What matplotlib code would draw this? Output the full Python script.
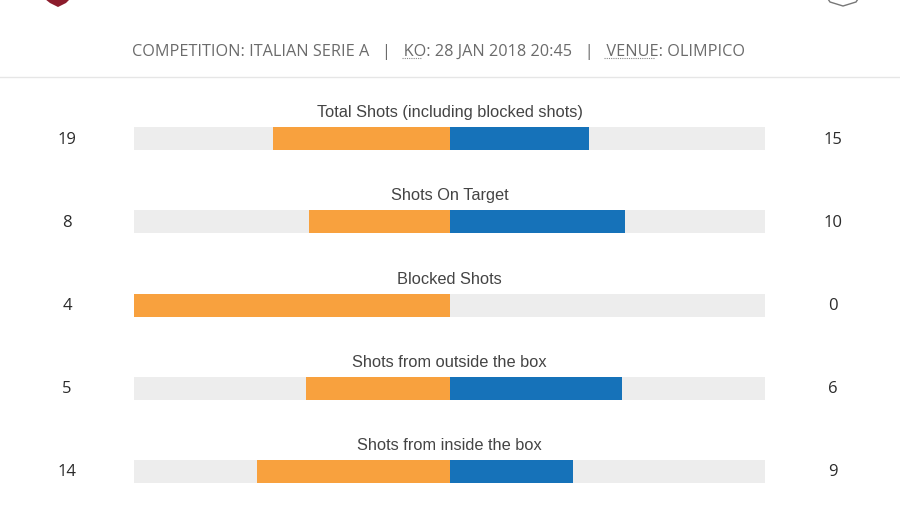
import matplotlib
matplotlib.use("Agg")
import matplotlib.pyplot as plt
from matplotlib.patches import Polygon
from matplotlib.textpath import TextPath
from matplotlib.font_manager import FontProperties

# match stats
stat_names = [
    "Total Shots (including blocked shots)",
    "Shots On Target",
    "Blocked Shots",
    "Shots from outside the box",
    "Shots from inside the box",
]
home_vals = [19, 8, 4, 5, 14]
away_vals = [15, 10, 0, 6, 9]

header = "COMPETITION: ITALIAN SERIE A   |   KO: 28 JAN 2018 20:45   |   VENUE: OLIMPICO"
abbrevs = ["KO", "VENUE"]

orange = "#f8a13e"
blue = "#1672b9"
track = "#ededed"

W, H = 900, 506
fig = plt.figure(figsize=(W / 100, H / 100), dpi=100)
fig.patch.set_facecolor("white")

def px(x, y):
    # pixel position (top-left origin) -> figure fraction
    return x / W, 1 - y / H

# header
fig.add_artist(plt.Line2D([0, 1], [px(0, 78)[1]] * 2, color="#e6e6e6", lw=1))
hdr = fig.text(*px(438.5, 52), header, ha="center", va="center", fontsize=11.7,
               family="Open Sans", color="#6b6b6b")

# partial team crests peeking in at the top
fig.add_artist(Polygon([px(45, 0), px(70, 0), px(66, 4), px(58, 8), px(50, 4)], closed=True,
                       facecolor="#8c1c2c", edgecolor="none", transform=fig.transFigure))
fig.add_artist(Polygon([px(828, 0), px(858, 0), px(856, 3), px(843, 7), px(830, 3)], closed=True,
                       facecolor="white", edgecolor="#777777", lw=1, transform=fig.transFigure))

# bars axes: x from -1 (left edge of track) to 1 (right edge)
top, bot = 100, 500
first_row = 139.5
ax = fig.add_axes([134 / W, 1 - bot / H, (765 - 134) / W, (bot - top) / H])
row_px = 83.25
ax.set_xlim(-1, 1)
ax.set_ylim((bot - first_row) / row_px, (top - first_row) / row_px)
ax.axis("off")

bar_h = 23 / row_px
ys = list(range(len(stat_names)))
home_share = [h / (h + a) if h + a else 0 for h, a in zip(home_vals, away_vals)]
away_share = [a / (h + a) if h + a else 0 for h, a in zip(home_vals, away_vals)]

ax.barh(ys, [2] * len(ys), left=-1, height=bar_h, color=track)
ax.barh(ys, home_share, left=[-s for s in home_share], height=bar_h, color=orange)
ax.barh(ys, away_share, left=0, height=bar_h, color=blue)

for y, name, h, a in zip(ys, stat_names, home_vals, away_vals):
    ax.text(0, y - 27 / row_px, name, ha="center", va="center", fontsize=11.8,
            family="Liberation Sans", color="#444444")
    ax.text(-1 - 67 / 315.5, y, str(h), ha="center", va="center", fontsize=12,
            family="Open Sans", color="#2b2b2b", clip_on=False)
    ax.text(1 + 68 / 315.5, y, str(a), ha="center", va="center", fontsize=12,
            family="Open Sans", color="#2b2b2b", clip_on=False)

# dotted underline under the abbreviations KO and VENUE
fig.canvas.draw()
r = fig.canvas.get_renderer()
bb = hdr.get_window_extent(r)
fp = FontProperties(family="Open Sans", size=11.7)
def text_w(s):
    return TextPath((0, 0), s, prop=fp).get_extents().width * 100 / 72
for word in abbrevs:
    i = header.index(word)
    x0 = bb.x0 + text_w(header[:i] + "x") - text_w("x")
    x1 = x0 + text_w(word)
    yy = bb.y0 + 1
    fig.add_artist(plt.Line2D([x0 / W, x1 / W], [yy / H, yy / H], color="#888888",
                              lw=0.8, ls=(0, (1, 1))))

fig.savefig("out.png", dpi=100, facecolor="white")
